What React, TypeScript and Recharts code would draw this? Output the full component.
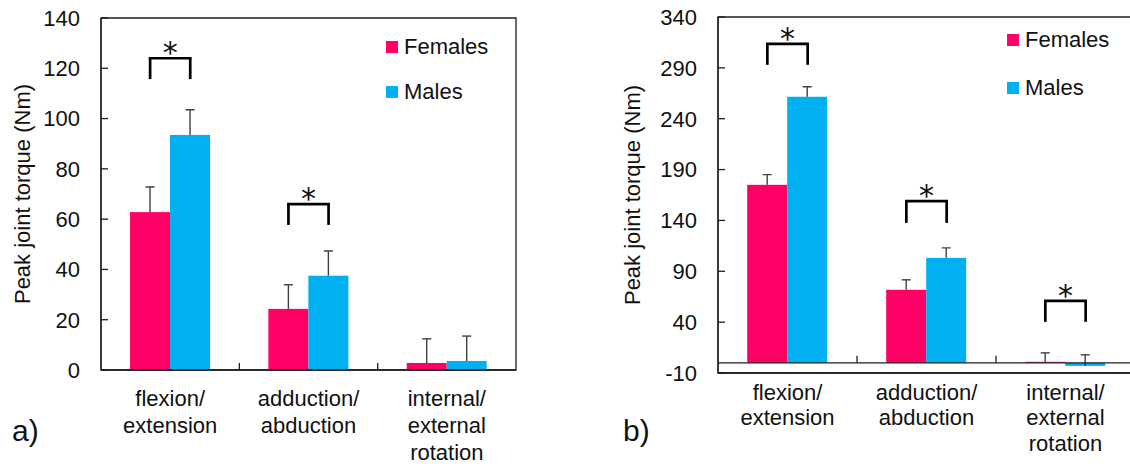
import React from 'react';
import {
  BarChart,
  Bar,
  XAxis,
  YAxis,
  ReferenceLine,
  ReferenceDot,
  ReferenceArea,
  Legend,
} from 'recharts';

const FONT = '"Liberation Sans", Arial, sans-serif';
const PINK = '#FF0066';
const BLUE = '#00B0F0';
const AXIS = '#1e1e1e';

// ---------- data ----------
const categories = ['flexion/\nextension', 'adduction/\nabduction', 'internal/\nexternal\nrotation'];
const seriesNames = ['Females', 'Males'];

// panel a)
const femalesA = [62.8, 24.3, 2.8];
const femalesAErr = [10, 9.6, 9.6];
const malesA = [93.5, 37.5, 3.6];
const malesAErr = [10, 9.8, 9.9];
const ticksA = [0, 20, 40, 60, 80, 100, 120, 140];
const bracketsA = [
  { cat: 0, top: 124, bottom: 115.7 },
  { cat: 1, top: 66, bottom: 57.7 },
];

// panel b)
const femalesB = [175, 71.8, 1];
const femalesBErr = [10, 9.8, 8.8];
const malesB = [261.6, 103.2, -3];
const malesBErr = [9.8, 9.8, 10.9];
const ticksB = [-10, 40, 90, 140, 190, 240, 290, 340];
const bracketsB = [
  { cat: 0, top: 313.5, bottom: 293 },
  { cat: 1, top: 159, bottom: 137.6 },
  { cat: 2, top: 61, bottom: 40.3 },
];

const buildRows = (f: number[], fe: number[], m: number[], me: number[]) =>
  categories.map((name, i) => ({ name, pos: i + 0.5, f: f[i], fErr: fe[i], m: m[i], mErr: me[i] }));

const rowsA = buildRows(femalesA, femalesAErr, malesA, malesAErr);
const rowsB = buildRows(femalesB, femalesBErr, malesB, malesBErr);

// ---------- helpers ----------
const CAT_GAP = 0.21; // barCategoryGap fraction each side
const BAR_FRAC = (1 - 2 * CAT_GAP) / 2;
const fCenter = CAT_GAP + BAR_FRAC / 2;
const mCenter = CAT_GAP + BAR_FRAC * 1.5;

function ErrBarShape(props: any) {
  const { x, y, width, height, fill, payload, valKey, errKey } = props;
  const val = payload[valKey];
  const err = payload[errKey];
  const top = Math.min(y, y + height);
  const bot = Math.max(y, y + height);
  const h = bot - top;
  const ppu = val !== 0 ? h / Math.abs(val) : 0;
  const vy = val >= 0 ? top : bot;
  const ey = vy - err * ppu;
  const cx = x + width / 2;
  return (
    <g>
      <rect x={x} y={top} width={width} height={h} fill={fill} />
      <line x1={cx} y1={vy} x2={cx} y2={ey} stroke="#404040" strokeWidth={1.4} />
      <line x1={cx - 4.5} y1={ey} x2={cx + 4.5} y2={ey} stroke="#404040" strokeWidth={1.4} />
    </g>
  );
}

function CatTick(props: any) {
  const { x, y, payload, first, lh } = props;
  const lines = String(payload.value).split('\n');
  return (
    <g>
      {lines.map((t, i) => (
        <text
          key={i}
          x={x}
          y={y + first + i * lh}
          textAnchor="middle"
          dominantBaseline="central"
          fontFamily={FONT}
          fontSize={22}
          fill="#111"
        >
          {t}
        </text>
      ))}
    </g>
  );
}

function YTitle(props: any) {
  const { viewBox, xPos } = props;
  const cy = viewBox.y + viewBox.height / 2;
  const cx = viewBox.x + xPos;
  return (
    <text
      x={cx}
      y={cy}
      transform={`rotate(-90 ${cx} ${cy})`}
      textAnchor="middle"
      dominantBaseline="central"
      fontFamily={FONT}
      fontSize={22}
      fill="#111"
    >
      Peak joint torque (Nm)
    </text>
  );
}

function LegendBox(props: any) {
  const { payload, rowH } = props;
  return (
    <div style={{ fontFamily: FONT, fontSize: 22, color: '#111' }}>
      {(payload || []).map((e: any, i: number) => (
        <div key={i} style={{ display: 'flex', alignItems: 'center', height: rowH }}>
          <span style={{ display: 'inline-block', width: 12, height: 12, background: e.color, marginRight: 6 }} />
          <span>{e.value}</span>
        </div>
      ))}
    </div>
  );
}

type PanelProps = {
  rows: any[];
  domain: [number, number];
  ticks: number[];
  brackets: { cat: number; top: number; bottom: number }[];
  width: number;
  margin: { top: number; right: number; left: number; bottom: number };
  xHeight: number;
  dividerLen: number;
  zeroLine: boolean;
  catFirst: number;
  catLh: number;
  legendTop: number;
  legendLeft: number;
  legendRow: number;
  titleX: number;
};

function Panel(p: PanelProps) {
  return (
    <BarChart
      width={p.width}
      height={464}
      data={p.rows}
      margin={p.margin}
      barCategoryGap={`${CAT_GAP * 100}%`}
      barGap={0}
    >
      <XAxis
        dataKey="name"
        interval={0}
        tickLine={false}
        tickSize={0}
        tickMargin={0}
        height={p.xHeight}
        axisLine={{ stroke: AXIS, strokeWidth: 1.3 }}
        tick={<CatTick first={p.catFirst} lh={p.catLh} />}
      />
      <XAxis
        xAxisId="n"
        dataKey="pos"
        type="number"
        domain={[0, 3]}
        ticks={[0, 1, 2, 3]}
        allowDataOverflow
        hide
        height={0}
      />
      <YAxis
        domain={p.domain}
        ticks={p.ticks}
        interval={0}
        allowDataOverflow
        width={101}
        tickSize={-7}
        tickMargin={28}
        axisLine={{ stroke: AXIS, strokeWidth: 1.3 }}
        tickLine={{ stroke: AXIS, strokeWidth: 1.3 }}
        tick={{ fill: '#111', fontSize: 22, fontFamily: FONT }}
        label={(lp: any) => <YTitle viewBox={lp.viewBox} xPos={p.titleX} />}
      />
      <Legend
        layout="vertical"
        align="center"
        verticalAlign="middle"
        wrapperStyle={{ left: p.legendLeft, top: p.legendTop, width: 150 }}
        content={(lp: any) => <LegendBox payload={lp.payload} rowH={p.legendRow} />}
      />
      <Bar
        dataKey="f"
        name={seriesNames[0]}
        fill={PINK}
        isAnimationActive={false}
        shape={(sp: any) => <ErrBarShape {...sp} valKey="f" errKey="fErr" />}
      />
      <Bar
        dataKey="m"
        name={seriesNames[1]}
        fill={BLUE}
        isAnimationActive={false}
        shape={(sp: any) => <ErrBarShape {...sp} valKey="m" errKey="mErr" />}
      />
      <ReferenceArea
        xAxisId="n"
        x1={0}
        x2={3}
        y1={p.domain[0]}
        y2={p.domain[1]}
        fill="none"
        fillOpacity={0}
        stroke={AXIS}
        strokeWidth={1.3}
        ifOverflow="visible"
      />
      {p.zeroLine && <ReferenceLine y={0} stroke={AXIS} strokeWidth={1.3} />}
      {[1, 2].map((d) => (
        <ReferenceLine
          key={`d${d}`}
          xAxisId="n"
          segment={[
            { x: d, y: 0 },
            { x: d, y: p.dividerLen },
          ]}
          stroke={AXIS}
          strokeWidth={1.3}
          ifOverflow="visible"
        />
      ))}
      {p.brackets.map((b, i) => {
        const xl = b.cat + fCenter;
        const xr = b.cat + mCenter;
        return [
          <ReferenceLine
            key={`bt${i}`}
            xAxisId="n"
            segment={[
              { x: xl, y: b.top },
              { x: xr, y: b.top },
            ]}
            stroke="#000"
            strokeWidth={2.7}
            strokeLinecap="square"
            ifOverflow="visible"
          />,
          <ReferenceLine
            key={`bl${i}`}
            xAxisId="n"
            segment={[
              { x: xl, y: b.top },
              { x: xl, y: b.bottom },
            ]}
            stroke="#000"
            strokeWidth={2.7}
            ifOverflow="visible"
          />,
          <ReferenceLine
            key={`br${i}`}
            xAxisId="n"
            segment={[
              { x: xr, y: b.top },
              { x: xr, y: b.bottom },
            ]}
            stroke="#000"
            strokeWidth={2.7}
            ifOverflow="visible"
          />,
          <ReferenceDot
            key={`bs${i}`}
            xAxisId="n"
            x={b.cat + 0.5}
            y={b.top}
            r={0}
            fill="none"
            stroke="none"
            ifOverflow="visible"
            label={(lp: any) => (
              <text
                x={lp.viewBox.x}
                y={lp.viewBox.y + 5}
                textAnchor="middle"
                fontFamily='"DejaVu Sans", sans-serif'
                fontSize={30}
                fill="#111"
              >
                *
              </text>
            )}
          />,
        ];
      })}
    </BarChart>
  );
}

export default function App() {
  return (
    <div
      style={{
        position: 'absolute',
        left: 0,
        top: 0,
        width: 1130,
        height: 464,
        overflow: 'hidden',
        background: '#fff',
        fontFamily: FONT,
      }}
    >
      <div style={{ position: 'absolute', left: 0, top: 0 }}>
        <Panel
          rows={rowsA}
          domain={[0, 140]}
          ticks={ticksA}
          brackets={bracketsA}
          width={560}
          margin={{ top: 18, right: 44, left: 0, bottom: 0 }}
          xHeight={94}
          dividerLen={2.8}
          zeroLine={false}
          catFirst={28}
          catLh={27}
          legendTop={24.5}
          legendLeft={386}
          legendRow={45}
          titleX={22}
        />
      </div>
      <div style={{ position: 'absolute', left: 617, top: 0 }}>
        <Panel
          rows={rowsB}
          domain={[-10, 340]}
          ticks={ticksB}
          brackets={bracketsB}
          width={540}
          margin={{ top: 17, right: 22, left: 0, bottom: 0 }}
          xHeight={91}
          dividerLen={6.9}
          zeroLine={true}
          catFirst={19}
          catLh={25.5}
          legendTop={16}
          legendLeft={390}
          legendRow={48}
          titleX={15}
        />
      </div>
      <div
        style={{
          position: 'absolute',
          left: 12,
          top: 416,
          fontSize: 30,
          lineHeight: '30px',
          color: '#111',
          fontFamily: FONT,
        }}
      >
        a)
      </div>
      <div
        style={{
          position: 'absolute',
          left: 623,
          top: 416,
          fontSize: 30,
          lineHeight: '30px',
          color: '#111',
          fontFamily: FONT,
        }}
      >
        b)
      </div>
    </div>
  );
}
